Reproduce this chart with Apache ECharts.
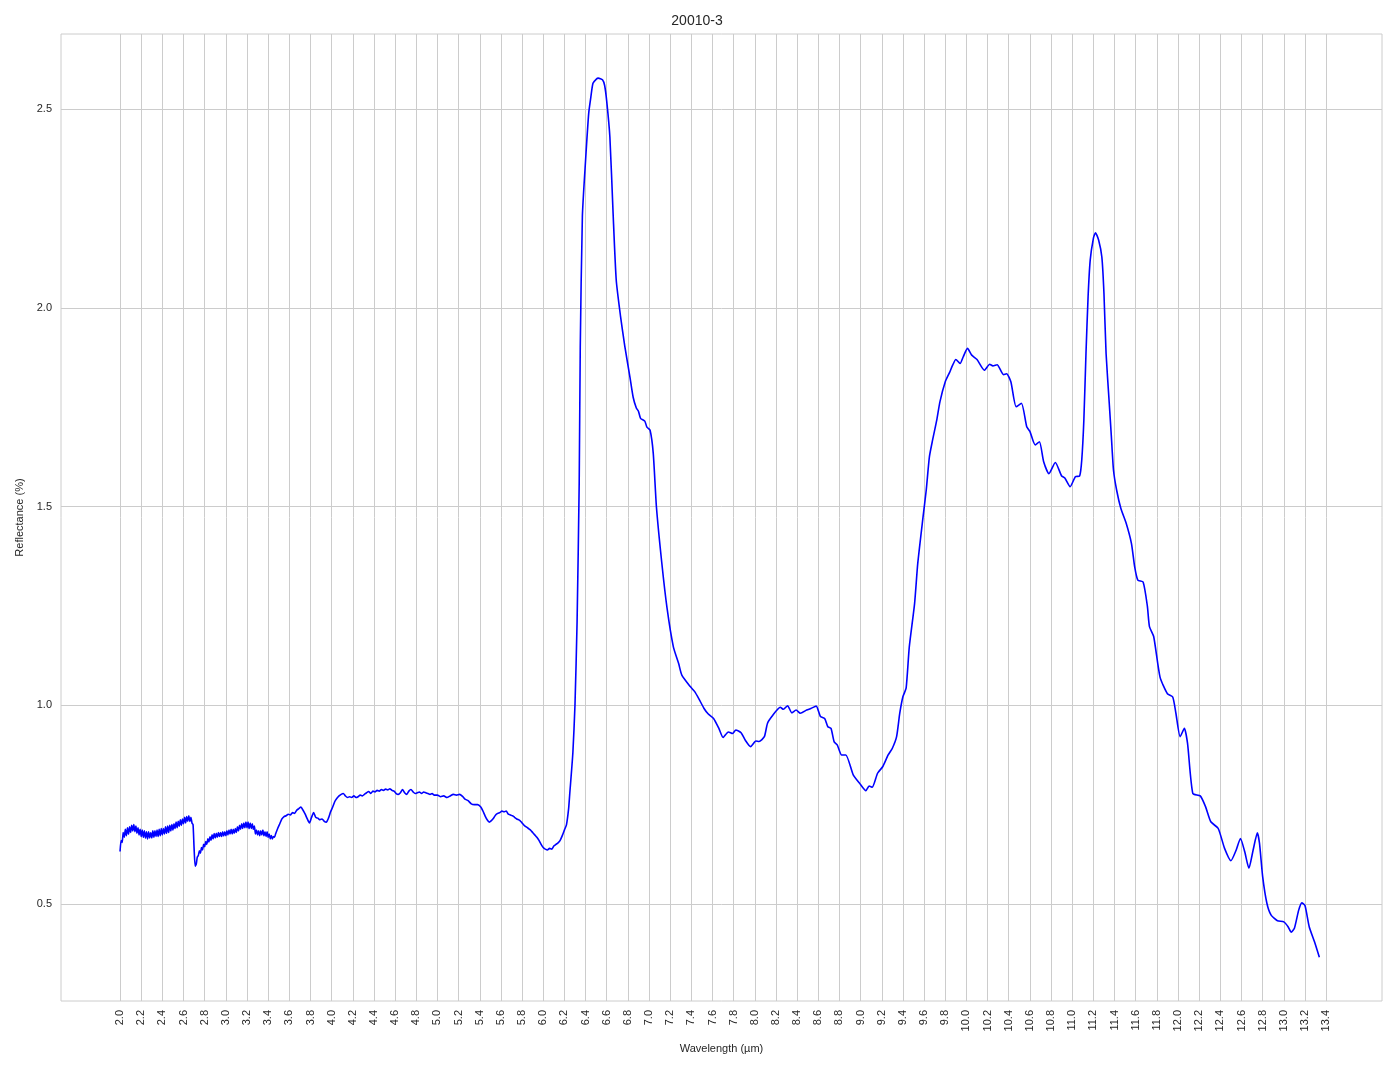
<!DOCTYPE html>
<html><head><meta charset="utf-8">
<script src="https://cdn.jsdelivr.net/npm/echarts@6/dist/echarts.min.js"></script>
<style>html,body{margin:0;padding:0;background:#fff}#c{width:1394px;height:1069px}</style>
</head><body><div id="c"></div>
<script>
const title = '20010-3';
const xName = 'Wavelength (µm)';
const yName = 'Reflectance (%)';
const xTicks = [2.0,2.2,2.4,2.6,2.8,3.0,3.2,3.4,3.6,3.8,4.0,4.2,4.4,4.6,4.8,5.0,5.2,5.4,5.6,5.8,6.0,6.2,6.4,6.6,6.8,7.0,7.2,7.4,7.6,7.8,8.0,8.2,8.4,8.6,8.8,9.0,9.2,9.4,9.6,9.8,10.0,10.2,10.4,10.6,10.8,11.0,11.2,11.4,11.6,11.8,12.0,12.2,12.4,12.6,12.8,13.0,13.2,13.4];
const yTicks = [0.5,1.0,1.5,2.0,2.5];

// noisy start of the spectrum, 2.00–2.68 µm (0.01 µm steps)
const wlNoisyA = [2.00,2.01,2.02,2.03,2.04,2.05,2.06,2.07,2.08,2.09,2.10,2.11,2.12,2.13,2.14,2.15,2.16,2.17,2.18,2.19,2.20,2.21,2.22,2.23,2.24,2.25,2.26,2.27,2.28,2.29,2.30,2.31,2.32,2.33,2.34,2.35,2.36,2.37,2.38,2.39,2.40,2.41,2.42,2.43,2.44,2.45,2.46,2.47,2.48,2.49,2.50,2.51,2.52,2.53,2.54,2.55,2.56,2.57,2.58,2.59,2.60,2.61,2.62,2.63,2.64,2.65,2.66,2.67,2.68];
const rfNoisyA = [0.632,0.660,0.655,0.680,0.668,0.688,0.672,0.692,0.676,0.694,0.680,0.698,0.684,0.700,0.682,0.696,0.678,0.692,0.674,0.688,0.670,0.686,0.668,0.684,0.666,0.682,0.664,0.682,0.666,0.680,0.666,0.684,0.668,0.684,0.670,0.686,0.670,0.688,0.672,0.690,0.674,0.690,0.676,0.694,0.678,0.696,0.680,0.698,0.684,0.700,0.686,0.702,0.690,0.706,0.692,0.708,0.696,0.712,0.698,0.714,0.702,0.718,0.704,0.720,0.708,0.722,0.708,0.718,0.704];

// dip at 2.7 µm
const wlDip = [2.69,2.70,2.71,2.72,2.73];
const rfDip = [0.700,0.640,0.595,0.600,0.618];

// noisy recovery, 2.74–3.46 µm
const wlNoisyB = [2.74,2.75,2.76,2.77,2.78,2.79,2.80,2.81,2.82,2.83,2.84,2.85,2.86,2.87,2.88,2.89,2.90,2.91,2.92,2.93,2.94,2.95,2.96,2.97,2.98,2.99,3.00,3.01,3.02,3.03,3.04,3.05,3.06,3.07,3.08,3.09,3.10,3.11,3.12,3.13,3.14,3.15,3.16,3.17,3.18,3.19,3.20,3.21,3.22,3.23,3.24,3.25,3.26,3.27,3.28,3.29,3.30,3.31,3.32,3.33,3.34,3.35,3.36,3.37,3.38,3.39,3.40,3.41,3.42,3.43,3.44,3.45,3.46];
const rfNoisyB = [0.622,0.634,0.628,0.642,0.636,0.650,0.644,0.657,0.650,0.664,0.656,0.669,0.660,0.674,0.664,0.677,0.666,0.678,0.668,0.680,0.670,0.680,0.670,0.682,0.671,0.682,0.672,0.684,0.674,0.686,0.676,0.688,0.676,0.688,0.678,0.690,0.680,0.694,0.684,0.698,0.688,0.702,0.690,0.704,0.692,0.706,0.692,0.706,0.690,0.704,0.690,0.702,0.688,0.696,0.676,0.686,0.674,0.684,0.672,0.684,0.674,0.686,0.672,0.682,0.670,0.682,0.668,0.676,0.664,0.672,0.664,0.670,0.668];

// rest of the spectrum, 3.47–13.34 µm
const wlMain = [3.47,3.49,3.51,3.53,3.55,3.57,3.59,3.61,3.63,3.65,3.67,3.69,3.71,3.73,3.75,3.77,3.79,3.81,3.83,3.85,3.87,3.89,3.91,3.93,3.95,3.97,3.99,4.01,4.03,4.05,4.07,4.09,4.11,4.13,4.15,4.17,4.19,4.21,4.23,4.25,4.27,4.29,4.31,4.33,4.35,4.37,4.39,4.41,4.43,4.45,4.47,4.49,4.51,4.53,4.55,4.57,4.59,4.61,4.63,4.65,4.67,4.69,4.71,4.73,4.75,4.77,4.79,4.81,4.83,4.85,4.87,4.89,4.91,4.93,4.95,4.97,5.00,5.03,5.06,5.09,5.12,5.15,5.18,5.21,5.24,5.26,5.29,5.32,5.35,5.38,5.41,5.43,5.45,5.47,5.49,5.51,5.53,5.55,5.57,5.59,5.61,5.63,5.65,5.67,5.69,5.71,5.73,5.75,5.78,5.80,5.82,5.84,5.86,5.88,5.90,5.92,5.94,5.96,5.98,6.00,6.02,6.04,6.06,6.08,6.10,6.12,6.14,6.16,6.18,6.20,6.22,6.24,6.25,6.28,6.30,6.32,6.34,6.35,6.37,6.40,6.43,6.45,6.47,6.50,6.52,6.56,6.58,6.60,6.63,6.66,6.69,6.73,6.77,6.82,6.85,6.88,6.90,6.92,6.96,6.98,7.01,7.04,7.07,7.12,7.17,7.23,7.28,7.31,7.39,7.43,7.47,7.52,7.56,7.61,7.66,7.70,7.75,7.79,7.82,7.87,7.91,7.96,8.01,8.04,8.09,8.12,8.17,8.24,8.27,8.31,8.35,8.39,8.43,8.49,8.53,8.58,8.62,8.66,8.69,8.72,8.75,8.78,8.82,8.86,8.93,8.99,9.05,9.08,9.11,9.16,9.21,9.26,9.30,9.34,9.37,9.40,9.43,9.46,9.51,9.54,9.59,9.62,9.65,9.68,9.72,9.75,9.80,9.84,9.87,9.90,9.94,9.97,10.01,10.05,10.10,10.17,10.22,10.25,10.29,10.35,10.38,10.42,10.47,10.52,10.57,10.60,10.65,10.69,10.73,10.78,10.84,10.90,10.93,10.98,11.03,11.07,11.09,11.11,11.13,11.15,11.17,11.20,11.22,11.25,11.28,11.30,11.32,11.35,11.37,11.39,11.42,11.46,11.51,11.56,11.59,11.62,11.67,11.71,11.73,11.77,11.83,11.90,11.95,11.98,12.02,12.06,12.09,12.14,12.21,12.26,12.31,12.38,12.44,12.50,12.55,12.59,12.63,12.67,12.71,12.75,12.77,12.80,12.84,12.88,12.94,13.00,13.04,13.07,13.10,13.14,13.17,13.20,13.24,13.29,13.336];
const rfMain = [0.676,0.690,0.702,0.714,0.720,0.722,0.726,0.724,0.730,0.728,0.736,0.740,0.744,0.736,0.726,0.714,0.704,0.718,0.730,0.718,0.716,0.712,0.714,0.708,0.706,0.716,0.732,0.744,0.758,0.766,0.772,0.776,0.778,0.772,0.768,0.770,0.768,0.772,0.768,0.770,0.774,0.772,0.776,0.780,0.783,0.778,0.784,0.782,0.786,0.784,0.788,0.786,0.789,0.787,0.790,0.786,0.784,0.778,0.776,0.780,0.788,0.780,0.776,0.784,0.788,0.782,0.778,0.780,0.782,0.778,0.782,0.780,0.778,0.776,0.778,0.774,0.774,0.770,0.772,0.768,0.772,0.776,0.774,0.776,0.770,0.764,0.760,0.752,0.750,0.750,0.744,0.734,0.722,0.712,0.706,0.710,0.716,0.724,0.728,0.730,0.734,0.732,0.734,0.726,0.724,0.722,0.718,0.714,0.710,0.704,0.698,0.694,0.690,0.686,0.680,0.674,0.668,0.660,0.650,0.642,0.638,0.636,0.640,0.638,0.646,0.650,0.654,0.660,0.672,0.686,0.700,0.740,0.775,0.880,1.000,1.210,1.560,1.900,2.230,2.370,2.490,2.530,2.565,2.575,2.578,2.574,2.560,2.520,2.430,2.240,2.070,1.980,1.905,1.825,1.775,1.748,1.740,1.722,1.715,1.700,1.692,1.634,1.499,1.360,1.245,1.147,1.105,1.076,1.047,1.035,1.017,0.992,0.978,0.967,0.942,0.919,0.933,0.929,0.938,0.931,0.912,0.896,0.910,0.909,0.921,0.955,0.975,0.995,0.990,0.999,0.981,0.988,0.980,0.988,0.992,0.998,0.972,0.967,0.946,0.942,0.908,0.900,0.875,0.875,0.825,0.804,0.785,0.797,0.794,0.829,0.846,0.875,0.892,0.921,0.980,1.022,1.043,1.147,1.256,1.357,1.474,1.541,1.625,1.667,1.718,1.764,1.814,1.837,1.856,1.870,1.860,1.877,1.898,1.881,1.870,1.843,1.858,1.854,1.857,1.832,1.834,1.814,1.751,1.760,1.701,1.689,1.655,1.663,1.613,1.583,1.611,1.577,1.572,1.550,1.575,1.577,1.617,1.718,1.885,2.028,2.120,2.175,2.189,2.170,2.128,2.036,1.885,1.760,1.676,1.592,1.541,1.495,1.458,1.407,1.349,1.315,1.310,1.250,1.198,1.173,1.071,1.029,1.021,0.980,0.921,0.942,0.904,0.778,0.772,0.745,0.707,0.690,0.640,0.609,0.636,0.665,0.632,0.590,0.636,0.679,0.653,0.569,0.502,0.472,0.458,0.455,0.443,0.429,0.439,0.484,0.503,0.496,0.443,0.405,0.366];

const wavelength = [].concat(wlNoisyA, wlDip, wlNoisyB, wlMain);
const reflectance = [].concat(rfNoisyA, rfDip, rfNoisyB, rfMain);
const seriesData = wavelength.map((w, i) => [w, reflectance[i]]);

const FONT = '"Liberation Sans", Arial, sans-serif';
const chart = echarts.init(document.getElementById('c'), null, {renderer: 'canvas'});
chart.setOption({
  animation: false,
  backgroundColor: '#ffffff',
  title: {text: title, left: 'center', top: 9, textStyle: {fontFamily: FONT, fontSize: 14, fontWeight: 'normal', color: '#262626'}},
  grid: {left: 61, right: 12, top: 34, bottom: 68, show: true, borderColor: '#cccccc', borderWidth: 1, containLabel: false},
  xAxis: {
    type: 'value', min: 1.442, max: 13.928,
    name: xName, nameLocation: 'middle', nameGap: 42,
    nameTextStyle: {fontFamily: FONT, fontSize: 11, color: '#262626'},
    axisLine: {show: false}, axisTick: {show: false, customValues: xTicks},
    axisLabel: {customValues: xTicks, rotate: 90, margin: 9, fontFamily: FONT, fontSize: 11, color: '#262626', formatter: v => v.toFixed(1)},
    splitLine: {show: true, lineStyle: {color: '#cccccc', width: 1}}
  },
  yAxis: {
    type: 'value', min: 0.256, max: 2.689,
    name: yName, nameLocation: 'middle', nameGap: 35,
    nameTextStyle: {fontFamily: FONT, fontSize: 11, color: '#262626'},
    axisLine: {show: false}, axisTick: {show: false, customValues: yTicks},
    axisLabel: {customValues: yTicks, margin: 9, fontFamily: FONT, fontSize: 11, color: '#262626', formatter: v => v.toFixed(1)},
    splitLine: {show: true, lineStyle: {color: '#cccccc', width: 1}}
  },
  series: [{
    type: 'line', data: seriesData, showSymbol: false, smooth: 0.2,
    lineStyle: {color: '#0000ff', width: 1.6}, itemStyle: {color: '#0000ff'}
  }]
});
</script></body></html>
